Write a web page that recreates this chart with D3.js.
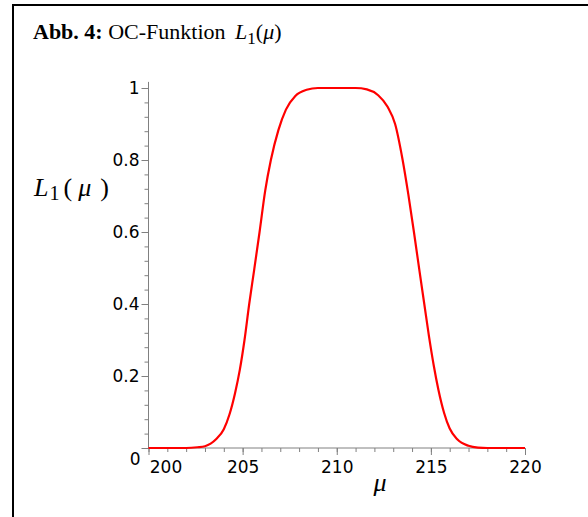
<!DOCTYPE html>
<html>
<head>
<meta charset="utf-8">
<script src="https://d3js.org/d3.v7.min.js"></script>
<style>
  body { margin: 0; background: #fff; }
  svg { display: block; }
  .tick text { font-family: "DejaVu Sans", sans-serif; font-size: 17px; fill: #000; }
  .serif { font-family: "Liberation Serif", "Times New Roman", serif; }
</style>
</head>
<body>
<div id="chart"></div>
<script>
// values
const mu = [200, 202, 202.6, 203, 203.3, 203.6, 204, 204.3, 204.6, 204.85, 205.1, 205.35,
            205.6, 205.9, 206.2, 206.5, 206.9, 207.3, 207.8, 208.4, 209, 210, 211, 211.6,
            212.2, 212.7, 213.1, 213.5, 213.8, 214.1, 214.4, 214.65, 214.9, 215.15, 215.4,
            215.7, 216, 216.4, 217, 217.5, 218, 220];
const L1 = [0, 0, 0.002, 0.005, 0.012, 0.025, 0.052, 0.093, 0.153, 0.217, 0.3, 0.4,
            0.49, 0.6, 0.715, 0.8, 0.883, 0.94, 0.978, 0.995, 1, 1, 1, 0.996,
            0.98, 0.948, 0.9, 0.8, 0.705, 0.6, 0.49, 0.4, 0.31, 0.23, 0.162,
            0.098, 0.054, 0.024, 0.006, 0.001, 0, 0];
const xTicks = [200, 205, 210, 215, 220];
const yTicks = [0, 0.2, 0.4, 0.6, 0.8, 1];

const W = 588, H = 517;
const svg = d3.select("#chart").append("svg")
    .attr("width", W).attr("height", H);

svg.append("rect").attr("width", W).attr("height", H).attr("fill", "#fff");

// frame
svg.append("rect")
    .attr("x", 13).attr("y", 5)
    .attr("width", 600).attr("height", 540)
    .attr("fill", "none").attr("stroke", "#000").attr("stroke-width", 2);

// title
const title = svg.append("text").attr("class", "serif")
    .attr("x", 33).attr("y", 39).attr("font-size", 22).attr("fill", "#000");
title.append("tspan").attr("font-weight", "bold").text("Abb. 4:");
title.append("tspan").text(" OC-Funktion ");
title.append("tspan").attr("font-style", "italic").attr("dx", 4).text("L");
title.append("tspan").attr("font-size", 17).attr("dy", 5).text("1");
title.append("tspan").attr("dy", -5).text("(");
title.append("tspan").attr("font-style", "italic").text("μ");
title.append("tspan").text(")");

const x = d3.scaleLinear().domain([200, 220]).range([148.5, 525]);
const y = d3.scaleLinear().domain([0, 1]).range([448, 88]);

const axisColor = "#808080";

// y axis
const gy = svg.append("g").attr("transform", `translate(${x(200)},0)`);
gy.append("g")
    .call(d3.axisLeft(y).tickValues(d3.range(0, 1.001, 0.04)).tickSize(4).tickFormat(""))
    .call(g => g.select(".domain").remove());
gy.append("g")
    .call(d3.axisLeft(y).tickValues(yTicks).tickSize(7).tickPadding(2)
        .tickFormat(d => d === 0 ? "0" : d3.format("")(d)))
    .call(g => g.select(".domain").remove());
gy.selectAll(".tick line").attr("stroke", axisColor);
gy.selectAll(".tick text").filter(d => d === 0).attr("dy", "0.95em").attr("x", -8);
gy.append("line").attr("y1", y(0)).attr("y2", y(1.017)).attr("stroke", axisColor);

// x axis
const gx = svg.append("g").attr("transform", `translate(0,${y(0)})`);
gx.append("g")
    .call(d3.axisBottom(x).tickValues(d3.range(200, 220.001, 1)).tickSize(4).tickFormat(""))
    .call(g => g.select(".domain").remove());
gx.append("g")
    .call(d3.axisBottom(x).tickValues(xTicks).tickSize(7).tickPadding(6).tickFormat(d3.format("d")))
    .call(g => g.select(".domain").remove());
gx.selectAll(".tick line").attr("stroke", axisColor);
gx.selectAll(".tick text").filter(d => d === 200).attr("dx", 17);
gx.append("line").attr("x1", x(200)).attr("x2", x(220)).attr("stroke", axisColor);

// curve
const line = d3.line()
    .x((d, i) => x(mu[i]))
    .y(d => y(d))
    .curve(d3.curveMonotoneX);
svg.append("path")
    .datum(L1)
    .attr("d", line)
    .attr("fill", "none")
    .attr("stroke", "#ff0000")
    .attr("stroke-width", 2.2);

// axis labels
const ylab = svg.append("text").attr("class", "serif")
    .attr("x", 34).attr("y", 196).attr("font-size", 26).attr("fill", "#000");
ylab.append("tspan").attr("font-style", "italic").text("L");
ylab.append("tspan").attr("font-size", 20).attr("dy", 4).attr("dx", 1).text("1");
ylab.append("tspan").attr("dy", -4).attr("dx", 4).text("(");
ylab.append("tspan").attr("font-style", "italic").attr("dx", 6).text("μ");
ylab.append("tspan").attr("dx", 9).text(")");

svg.append("text").attr("class", "serif")
    .attr("x", 380).attr("y", 491).attr("text-anchor", "middle")
    .attr("font-size", 26).attr("font-style", "italic").attr("fill", "#000")
    .text("μ");
</script>
</body>
</html>
